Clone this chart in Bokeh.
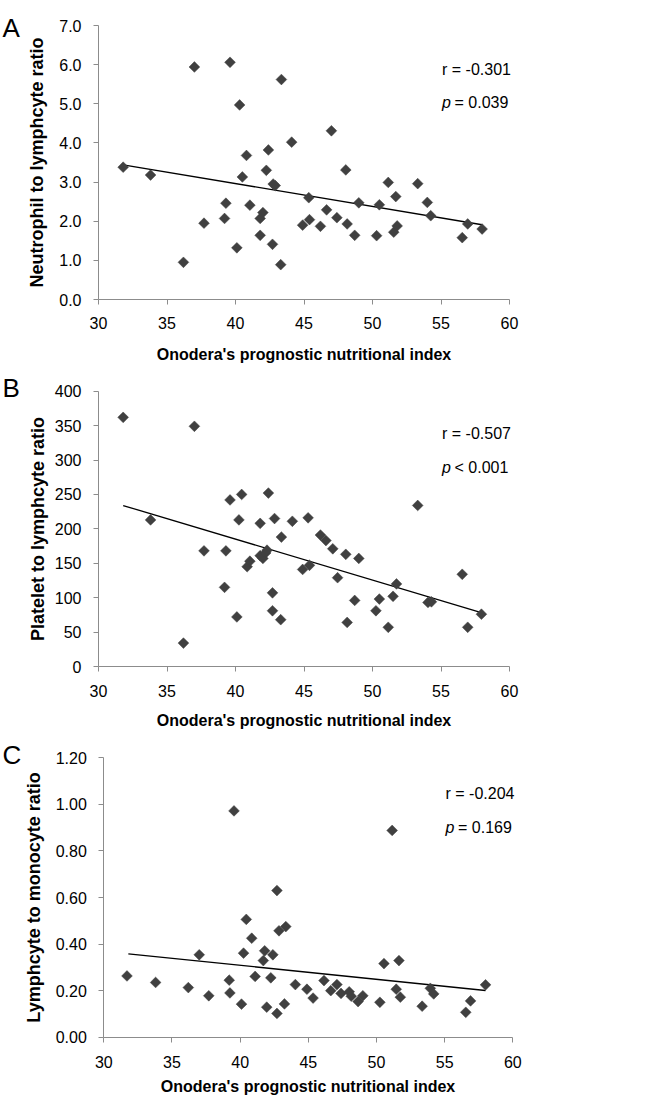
import numpy as np
from bokeh.plotting import figure
from bokeh.layouts import column
from bokeh.models import Range1d, FixedTicker, PrintfTickFormatter, Label
from bokeh.embed import file_html
from bokeh.resources import INLINE

# ---------------- data ----------------
x_ticks = [30, 35, 40, 45, 50, 55, 60]
x_title = "Onodera's prognostic nutritional index"

# Panel A: Neutrophil to lymphocyte ratio
pni_a = [31.8, 33.8, 36.2, 37.0, 37.7, 39.2, 39.3, 39.6, 40.1, 40.3,
         40.5, 40.8, 41.05, 41.8, 41.8, 42.0, 42.25, 42.4, 42.7, 42.75,
         42.9, 43.3, 43.35, 44.1, 44.9, 45.35, 45.4, 46.2, 46.65, 47.0,
         47.4, 48.05, 48.15, 48.7, 49.0, 50.3, 50.5, 51.15, 51.55, 51.7,
         51.8, 53.3, 54.0, 54.25, 56.55, 56.95, 58.0]
nlr = [3.38, 3.18, 0.95, 5.94, 1.95, 2.07, 2.46, 6.06, 1.32, 4.97,
       3.13, 3.68, 2.41, 2.07, 1.64, 2.22, 3.30, 3.82, 1.41, 2.95,
       2.91, 0.89, 5.62, 4.02, 1.90, 2.60, 2.04, 1.87, 2.29, 4.31,
       2.09, 3.31, 1.93, 1.64, 2.47, 1.63, 2.42, 2.99, 1.72, 2.63,
       1.88, 2.96, 2.48, 2.14, 1.58, 1.93, 1.80]
nlr_ticks = [0, 1, 2, 3, 4, 5, 6, 7]
trend_x = [31.8, 58.0]
trend_nlr = [3.44, 1.91]

# Panel B: Platelet to lymphocyte ratio
pni_b = [31.8, 33.8, 36.2, 37.0, 37.7, 39.2, 39.3, 39.6, 40.1, 40.25,
         40.45, 40.85, 41.05, 41.8, 41.8, 42.0, 42.2, 42.3, 42.4, 42.7,
         42.7, 42.85, 43.3, 43.35, 44.15, 44.9, 45.3, 45.4, 46.2, 46.6,
         47.1, 47.45, 48.05, 48.15, 48.7, 49.0, 50.25, 50.5, 51.15, 51.5,
         51.75, 53.3, 54.05, 54.3, 56.55, 56.95, 57.95]
plr = [362, 213, 34, 349, 168, 115, 168, 242, 72, 213,
       250, 145, 153, 208, 161, 157, 165, 169, 252, 107,
       81, 215, 68, 188, 211, 141, 216, 147, 191, 183,
       171, 129, 163, 64, 96, 157, 81, 98, 57, 102,
       120, 234, 93, 94, 134, 57, 76]
plr_ticks = [0, 50, 100, 150, 200, 250, 300, 350, 400]
trend_plr = [233.9, 78.0]

# Panel C: Lymphocyte to monocyte ratio
pni_c = [31.7, 33.8, 36.2, 37.0, 37.7, 39.2, 39.25, 39.55, 40.1, 40.25,
         40.45, 40.85, 41.1, 41.7, 41.8, 41.95, 42.25, 42.4, 42.7, 42.7,
         42.85, 43.35, 43.25, 44.05, 44.9, 45.35, 46.15, 46.65, 47.1, 47.4,
         48.0, 48.15, 48.65, 49.0, 50.25, 50.55, 51.15, 51.45, 51.65, 51.75,
         53.35, 53.95, 54.2, 56.55, 56.9, 58.0]
lmr = [0.263, 0.235, 0.213, 0.354, 0.178, 0.245, 0.190, 0.972, 0.142, 0.361,
       0.506, 0.425, 0.261, 0.329, 0.371, 0.129, 0.255, 0.354, 0.630, 0.102,
       0.457, 0.475, 0.143, 0.226, 0.206, 0.168, 0.243, 0.200, 0.226, 0.188,
       0.195, 0.176, 0.153, 0.178, 0.150, 0.316, 0.888, 0.206, 0.329, 0.172,
       0.133, 0.210, 0.186, 0.107, 0.156, 0.225]
lmr_ticks = [0.0, 0.2, 0.4, 0.6, 0.8, 1.0, 1.2]
trend_lmr = [0.358, 0.2005]

# ---------------- styling ----------------
FONT = "Liberation Sans"
AXIS_GRAY = "#8c8c8c"
MARK = "#404040"
W = 647


def panel(x, y, ty, yticks, yfmt, ylabel, letter, r_txt, p_txt,
          H, left, right, top, bottom, ylab_standoff, xl_standoff, xt_standoff,
          letter_base, r_left, r_base, p_base):
    # the plotting frame covers the whole canvas; axes are pinned at x=30 / y=0
    ymax = yticks[-1]
    kx = (right - left) / 30.0
    ky = (bottom - top) / float(ymax)
    xr = Range1d(30 - left / kx, 60 + (W - right) / kx)
    yr = Range1d(0 - (H - bottom) / ky, ymax + top / ky)
    p = figure(width=W, height=H, output_backend="svg", toolbar_location=None,
               x_range=xr, y_range=yr, min_border=0,
               min_border_left=0, min_border_right=0,
               min_border_top=0, min_border_bottom=0)
    p.outline_line_color = None
    p.xgrid.visible = False
    p.ygrid.visible = False
    p.background_fill_color = "white"
    p.border_fill_color = "white"

    for ax in (p.xaxis[0], p.yaxis[0]):
        ax.axis_line_color = AXIS_GRAY
        ax.axis_line_width = 1
        ax.major_tick_line_color = AXIS_GRAY
        ax.major_tick_in = 0
        ax.major_tick_out = 5
        ax.minor_tick_line_color = None
        ax.major_label_text_font = FONT
        ax.major_label_text_font_size = "16px"
        ax.major_label_text_color = "black"
        ax.axis_label_text_font = FONT
        ax.axis_label_text_font_style = "bold"
        ax.axis_label_text_color = "black"

    xa = p.xaxis[0]
    xa.fixed_location = 0
    xa.bounds = (30, 60)
    xa.ticker = FixedTicker(ticks=x_ticks)
    xa.axis_label = x_title
    xa.axis_label_text_font_size = "16px"
    xa.major_label_standoff = xl_standoff
    xa.axis_label_standoff = xt_standoff

    ya = p.yaxis[0]
    ya.fixed_location = 30
    ya.bounds = (0, ymax)
    ya.ticker = FixedTicker(ticks=yticks)
    ya.formatter = PrintfTickFormatter(format=yfmt)
    ya.axis_label = ylabel
    ya.axis_label_text_font_size = "18px"
    ya.major_label_standoff = 12
    ya.axis_label_standoff = ylab_standoff

    p.line(trend_x, ty, line_color="black", line_width=1.3)
    p.scatter(x, y, marker="square", angle=np.pi / 4, size=7.6,
              fill_color=MARK, line_color=MARK, line_width=0.5)

    p.add_layout(Label(x=2, y=letter_base, x_units="canvas", y_units="canvas",
                       text=letter, text_font=FONT, text_font_size="26px",
                       text_baseline="alphabetic", text_align="left",
                       text_color="black"))
    p.add_layout(Label(x=r_left, y=r_base, x_units="canvas", y_units="canvas",
                       text=r_txt, text_font=FONT, text_font_size="16px",
                       text_baseline="alphabetic", text_align="left",
                       text_color="black"))
    p.add_layout(Label(x=r_left, y=p_base, x_units="canvas", y_units="canvas",
                       text="p", text_font=FONT, text_font_size="16px",
                       text_font_style="italic",
                       text_baseline="alphabetic", text_align="left",
                       text_color="black"))
    p.add_layout(Label(x=r_left + 12.5, y=p_base, x_units="canvas", y_units="canvas",
                       text=p_txt, text_font=FONT, text_font_size="16px",
                       text_baseline="alphabetic", text_align="left",
                       text_color="black"))
    return p


pa = panel(pni_a, nlr, trend_nlr, nlr_ticks, "%.1f",
           "Neutrophil to lymphcyte ratio", "A", "r = -0.301", "= 0.039",
           H=366, left=98, right=509, top=25, bottom=299,
           ylab_standoff=9, xl_standoff=12, xt_standoff=14,
           letter_base=27, r_left=441.5, r_base=69, p_base=102)

pb = panel(pni_b, plr, trend_plr, plr_ticks, "%d",
           "Platelet to lymphcyte ratio", "B", "r = -0.507", "< 0.001",
           H=364, left=98, right=509, top=24.7, bottom=300,
           ylab_standoff=4, xl_standoff=13, xt_standoff=12,
           letter_base=21, r_left=441.5, r_base=67, p_base=100.5)

pc = panel(pni_c, lmr, trend_lmr, lmr_ticks, "%.2f",
           "Lymphcyte to monocyte ratio", "C", "r = -0.204", "= 0.169",
           H=374, left=103.3, right=512.3, top=27.3, bottom=306.7,
           ylab_standoff=8, xl_standoff=14, xt_standoff=6,
           letter_base=24, r_left=445, r_base=63, p_base=96.5)

layout = column(pa, pb, pc, spacing=0)
open("out.html", "w").write(file_html(layout, INLINE))
